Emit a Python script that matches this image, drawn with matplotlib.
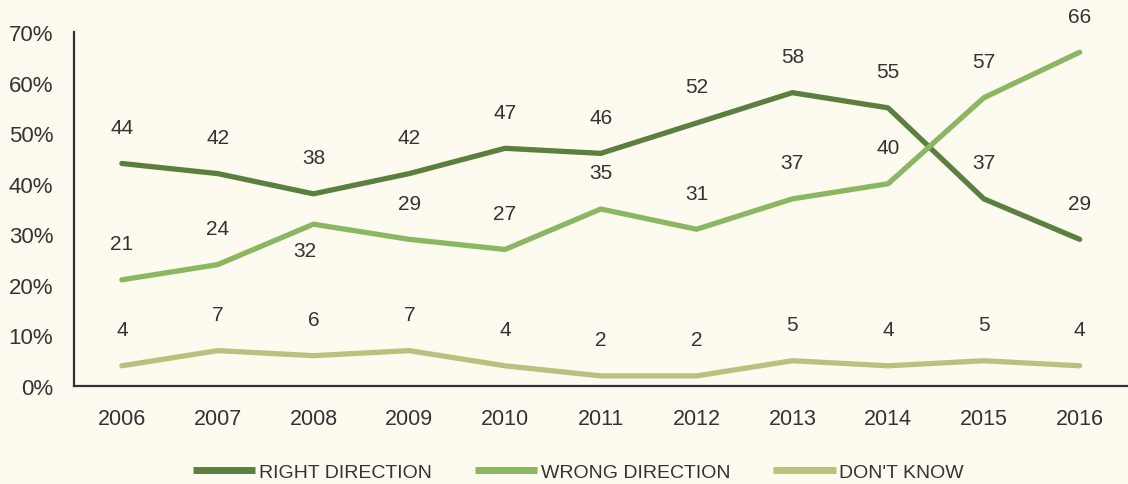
import matplotlib
matplotlib.use("Agg")
import matplotlib.pyplot as plt

years = ["2006", "2007", "2008", "2009", "2010", "2011", "2012", "2013", "2014", "2015", "2016"]
right_direction = [44, 42, 38, 42, 47, 46, 52, 58, 55, 37, 29]
wrong_direction = [21, 24, 32, 29, 27, 35, 31, 37, 40, 57, 66]
dont_know = [4, 7, 6, 7, 4, 2, 2, 5, 4, 5, 4]
series_names = ["RIGHT DIRECTION", "WRONG DIRECTION", "DON'T KNOW"]

BG = "#FDFBF0"
TXT = "#333333"
COLORS = ["#5B7F3F", "#8BB662", "#BBC07F"]

plt.rcParams["font.family"] = ["Liberation Sans", "DejaVu Sans"]

fig = plt.figure(figsize=(11.28, 4.85), dpi=100, facecolor=BG)
ax = fig.add_axes([0.0656, 0.202, 0.934, 0.730], facecolor=BG)

x = list(range(len(years)))
for name, vals, col in zip(series_names, [right_direction, wrong_direction, dont_know], COLORS):
    ax.plot(x, vals, color=col, lw=3.8, label=name, solid_capstyle="round", solid_joinstyle="round")

def label_series(vals, below=()):
    for i, v in enumerate(vals):
        if i in below:
            ax.annotate(str(v), (i, v), xytext=(-6, -19), textcoords="offset points",
                        ha="center", va="center", fontsize=15, color=TXT)
        else:
            ax.annotate(str(v), (i, v), xytext=(0, 26), textcoords="offset points",
                        ha="center", va="center", fontsize=15, color=TXT)

label_series(right_direction)
label_series(wrong_direction, below=(2,))
label_series(dont_know)

ax.set_xlim(-0.5, 10.5)
ax.set_ylim(0, 70)
ax.set_xticks(x)
ax.set_xticklabels(years)
ax.set_yticks(range(0, 71, 10))
ax.set_yticklabels([f"{v}%" for v in range(0, 71, 10)])
ax.tick_params(axis="both", length=0, colors=TXT)
ax.tick_params(axis="y", pad=15, labelsize=16)
ax.tick_params(axis="x", pad=16, labelsize=15.5)

for s in ["top", "right"]:
    ax.spines[s].set_visible(False)
for s in ["left", "bottom"]:
    ax.spines[s].set_color(TXT)
    ax.spines[s].set_linewidth(1.6)

leg = fig.legend(loc="center", bbox_to_anchor=(0.513, 0.024), ncol=3, frameon=False,
                 fontsize=14, handlelength=3.2, handletextpad=0.2, columnspacing=2.2)
for t in leg.get_texts():
    t.set_color(TXT)
for h in leg.get_lines():
    h.set_linewidth(5)
    h.set_solid_capstyle("butt")

fig.savefig("out.png", dpi=100, facecolor=BG)
